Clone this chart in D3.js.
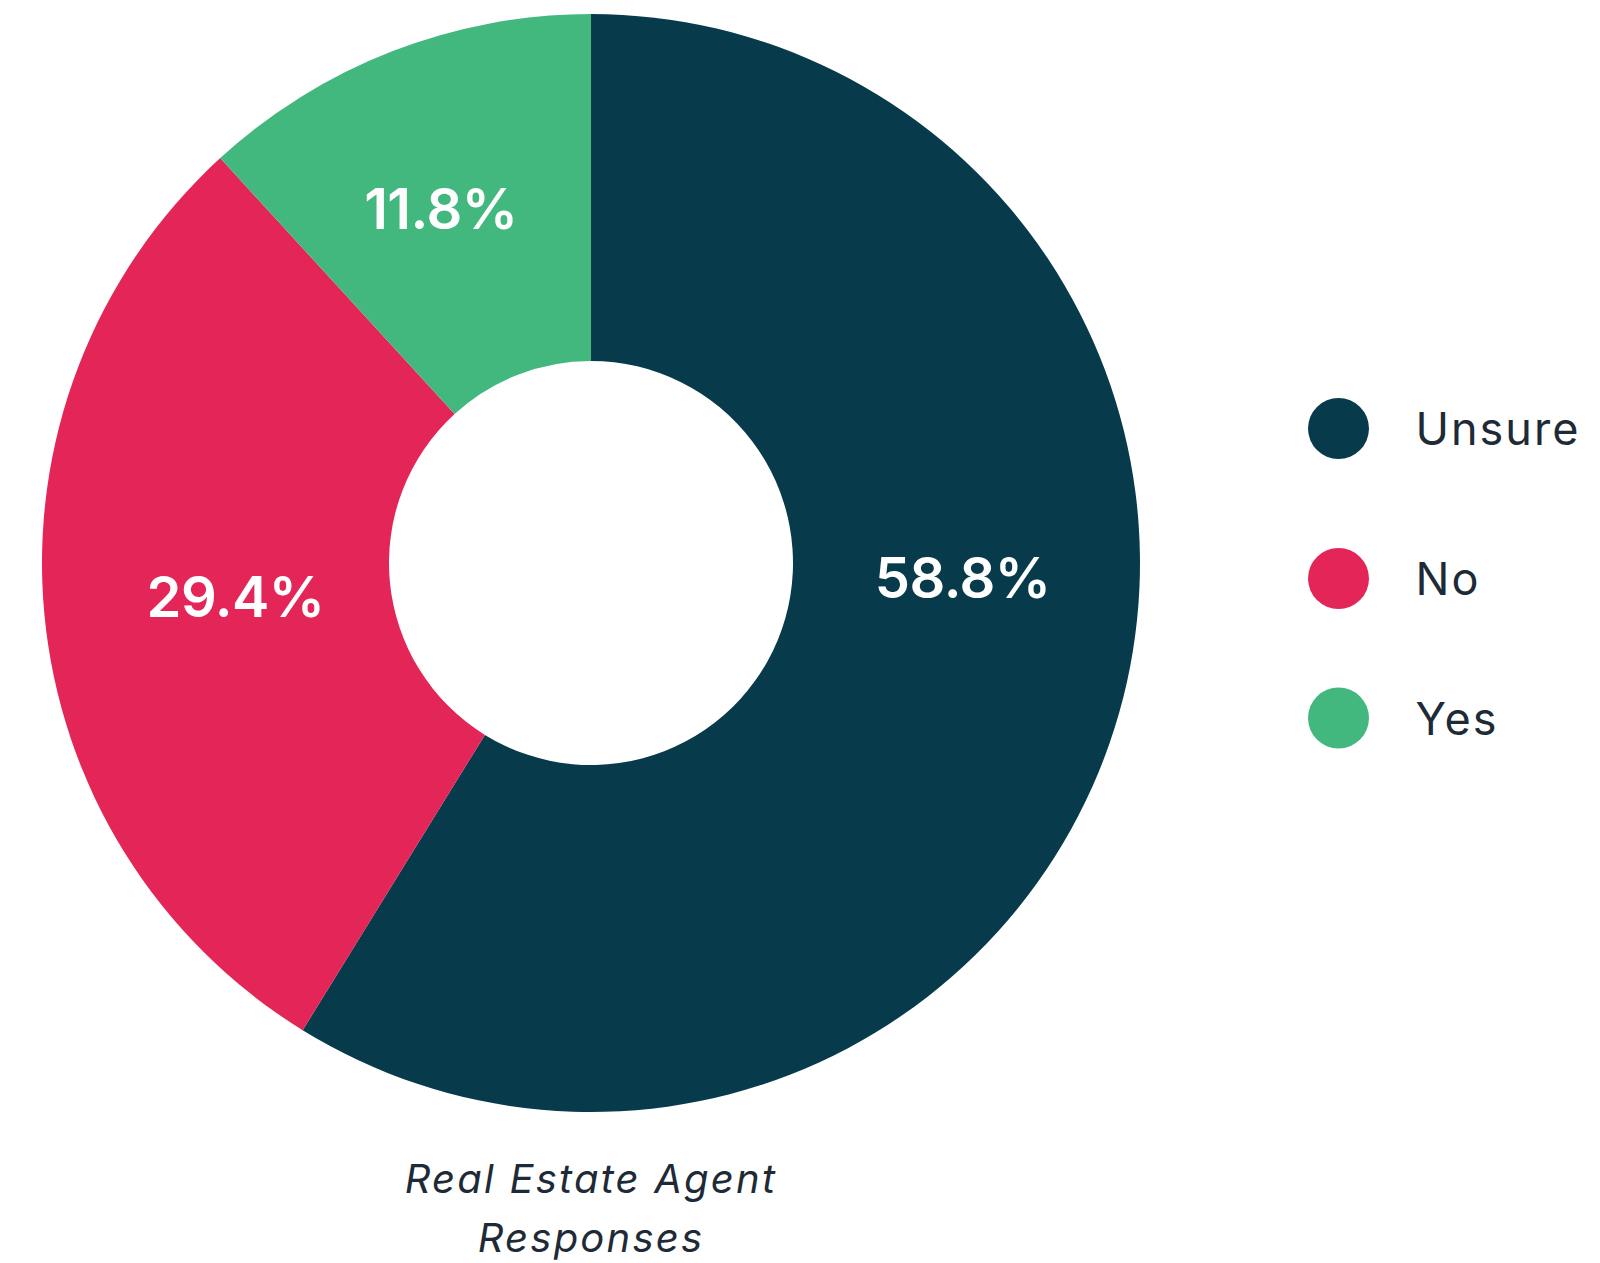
<!DOCTYPE html>
<html>
<head>
<meta charset="utf-8">
<script src="https://cdn.jsdelivr.net/npm/d3@7/dist/d3.min.js"></script>
<style>
  html, body { margin: 0; padding: 0; background: #ffffff; }
  svg { display: block; }
</style>
</head>
<body>
<svg id="chart" width="1600" height="1263"></svg>
<script>
// Survey answers and their shares (percent)
const categories = ["Unsure", "No", "Yes"];
const shares = [58.8, 29.4, 11.8];
const sliceColors = ["#073B4C", "#E32558", "#42B87F"];
const titleLines = ["Real Estate Agent", "Responses"];

const svg = d3.select("#chart");
const cx = 591, cy = 563;
const outerR = 549, innerR = 202;

const data = categories.map((c, i) => ({ name: c, value: shares[i] }));
const color = d3.scaleOrdinal().domain(categories).range(sliceColors);

const pie = d3.pie().value(d => d.value).sort(null);
const arc = d3.arc().innerRadius(innerR).outerRadius(outerR);
const arcs = pie(data);

const g = svg.append("g").attr("transform", `translate(${cx},${cy})`);

g.selectAll("path.slice")
  .data(arcs)
  .join("path")
  .attr("class", "slice")
  .attr("d", arc)
  .attr("fill", d => color(d.data.name));

// Percentage labels inside the ring; the big slice's label sits near the horizontal
const labelAngle = d => d.index === 0 ? Math.PI / 2 + 0.04
  : (d.index === 2 ? (d.startAngle + d.endAngle) / 2 - 0.03 : (d.startAngle + d.endAngle) / 2);
const labelRadius = d => [372, 357, 385][d.index];

g.selectAll("text.pct")
  .data(arcs)
  .join("text")
  .attr("class", "pct")
  .attr("x", d => Math.sin(labelAngle(d)) * labelRadius(d))
  .attr("y", d => -Math.cos(labelAngle(d)) * labelRadius(d))
  .attr("dy", "0.36em")
  .attr("text-anchor", "middle")
  .attr("fill", "#ffffff")
  .attr("font-family", "Inter, 'Open Sans', sans-serif")
  .attr("font-weight", 600)
  .attr("font-size", 56)
  .attr("letter-spacing", "-0.5")
  .text(d => d3.format(".1f")(d.value) + "%");

// Legend
const legendY = [428.5, 578.5, 718];
const legend = svg.append("g");
const items = legend.selectAll("g.item")
  .data(data)
  .join("g")
  .attr("class", "item")
  .attr("transform", (d, i) => `translate(1338.5,${legendY[i]})`);

items.append("circle")
  .attr("r", 30.5)
  .attr("fill", d => color(d.name));

items.append("text")
  .attr("x", 77)
  .attr("y", 16.5)
  .attr("fill", "#1E2B37")
  .attr("font-family", "Inter, 'Open Sans', sans-serif")
  .attr("font-weight", 400)
  .attr("font-size", 45)
  .attr("letter-spacing", "2")
  .text(d => d.name);

// Caption under the ring
svg.append("text")
  .attr("x", cx)
  .attr("y", 1193)
  .attr("text-anchor", "middle")
  .attr("fill", "#1E2B37")
  .attr("font-family", "Inter, 'Open Sans', sans-serif")
  .attr("font-style", "italic")
  .attr("font-size", 40)
  .attr("letter-spacing", "2.2")
  .selectAll("tspan")
  .data(titleLines)
  .join("tspan")
  .attr("x", cx)
  .attr("dy", (d, i) => i === 0 ? 0 : 59)
  .text(d => d);
</script>
</body>
</html>
